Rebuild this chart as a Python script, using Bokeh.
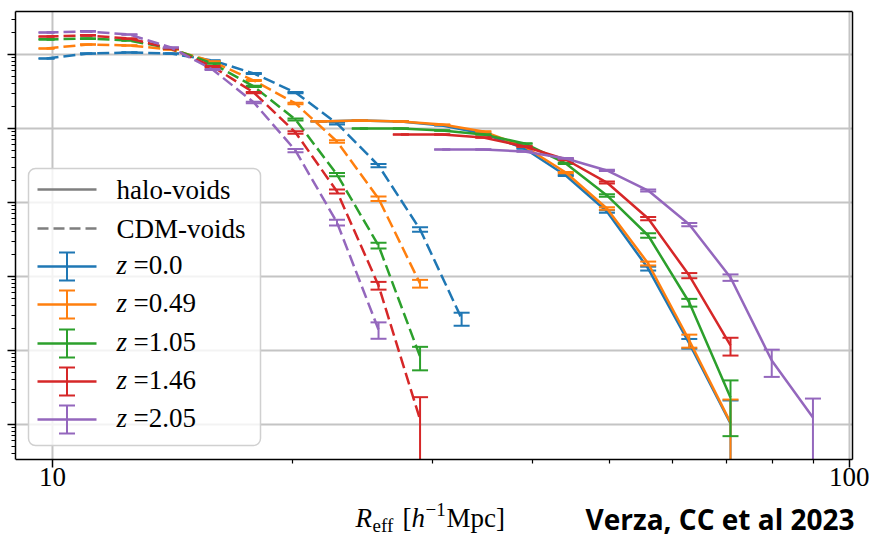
import numpy as np
from bokeh.plotting import figure
from bokeh.models import (FixedTicker, Range1d, LinearScale, Label, LogAxis,
                          CustomJSTickFormatter)
from bokeh.embed import file_html
from bokeh.resources import INLINE

# ---------------- data ----------------
z_labels = ["0.0", "0.49", "1.05", "1.46", "2.05"]
colors = ["#1f77b4", "#ff7f0e", "#2ca02c", "#d62728", "#9467bd"]

# CDM-voids: radius bins [h^-1 Mpc]
cdm_R = [9.83, 11.08, 12.49, 14.08, 15.88, 17.89, 20.18, 22.75, 25.65, 28.92, 32.61]
cdm_z000 = [8.83e-5, 1.03e-4, 1.064e-4, 1.03e-4, 8.30e-5, 5.54e-5, 3.06e-5, 1.17e-5, 3.16e-6, 4.32e-7, 2.70e-8]
cdm_z049 = [1.205e-4, 1.365e-4, 1.325e-4, 1.17e-4, 8.04e-5, 4.45e-5, 2.18e-5, 6.67e-6, 1.13e-6, 8.04e-8]
cdm_z105 = [1.60e-4, 1.64e-4, 1.545e-4, 1.205e-4, 7.55e-5, 3.70e-5, 1.32e-5, 2.39e-6, 2.62e-7, 8.30e-9]
cdm_z146 = [1.75e-4, 1.81e-4, 1.64e-4, 1.205e-4, 6.89e-5, 3.06e-5, 8.83e-6, 1.41e-6, 7.55e-8, 1.17e-9]
cdm_z205 = [1.98e-4, 2.05e-4, 1.86e-4, 1.245e-4, 6.27e-5, 2.25e-5, 5.04e-6, 5.37e-7, 1.92e-8]
cdm_relerr_z000 = [0.01, 0.01, 0.01, 0.01, 0.01, 0.015, 0.02, 0.03, 0.05, 0.07, 0.2]
cdm_relerr_z049 = [0.01, 0.01, 0.01, 0.01, 0.01, 0.015, 0.025, 0.04, 0.07, 0.12]
cdm_relerr_z105 = [0.01, 0.01, 0.01, 0.01, 0.01, 0.02, 0.03, 0.05, 0.09, 0.35]
cdm_relerr_z146 = [0.01, 0.01, 0.01, 0.01, 0.015, 0.02, 0.04, 0.06, 0.12, 1.0]
cdm_relerr_z205 = [0.01, 0.01, 0.01, 0.01, 0.015, 0.025, 0.05, 0.09, 0.25]

# halo-voids: radius bins [h^-1 Mpc]
halo_R = [21.57, 24.30, 27.36, 30.83, 34.72, 39.11, 44.06, 49.62, 55.90, 62.95, 70.91, 79.88, 89.98]
halo_first_bin = [0, 0, 1, 2, 3]
halo_z000 = [1.245e-5, 1.28e-5, 1.245e-5, 1.10e-5, 8.55e-6, 5.37e-6, 2.32e-6, 7.55e-7, 1.28e-7, 1.245e-8, 1.03e-9]
halo_z049 = [1.245e-5, 1.28e-5, 1.245e-5, 1.13e-5, 9.10e-6, 5.71e-6, 2.54e-6, 8.30e-7, 1.50e-7, 1.365e-8, 1.06e-9]
halo_z105 = [1.0e-5, 1.0e-5, 9.40e-6, 8.30e-6, 6.27e-6, 3.37e-6, 1.245e-6, 3.58e-7, 4.45e-8, 2.32e-9]
halo_z146 = [8.30e-6, 8.30e-6, 7.55e-6, 5.71e-6, 3.81e-6, 1.86e-6, 6.08e-7, 1.03e-7, 1.17e-8]
halo_z205 = [5.20e-6, 5.20e-6, 4.89e-6, 3.94e-6, 2.71e-6, 1.45e-6, 5.04e-7, 9.70e-8, 7.33e-9, 1.245e-9]
halo_relerr_z000 = [0.005, 0.005, 0.005, 0.005, 0.005, 0.01, 0.02, 0.04, 0.06, 0.15, 1.05]
halo_relerr_z049 = [0.005, 0.005, 0.005, 0.005, 0.01, 0.01, 0.02, 0.04, 0.06, 0.2, 1.05]
halo_relerr_z105 = [0.005, 0.005, 0.005, 0.01, 0.01, 0.02, 0.04, 0.07, 0.12, 0.7]
halo_relerr_z146 = [0.005, 0.005, 0.01, 0.01, 0.02, 0.03, 0.05, 0.08, 0.27]
halo_relerr_z205 = [0.005, 0.005, 0.01, 0.01, 0.02, 0.03, 0.05, 0.1, 0.4, 0.8]

x_major = [10, 100]
x_minor = [20, 30, 40, 50, 60, 70, 80, 90]
y_major = [1e-9, 1e-8, 1e-7, 1e-6, 1e-5, 1e-4]

cdm_vals = [cdm_z000, cdm_z049, cdm_z105, cdm_z146, cdm_z205]
cdm_errs = [cdm_relerr_z000, cdm_relerr_z049, cdm_relerr_z105, cdm_relerr_z146, cdm_relerr_z205]
halo_vals = [halo_z000, halo_z049, halo_z105, halo_z146, halo_z205]
halo_errs = [halo_relerr_z000, halo_relerr_z049, halo_relerr_z105, halo_relerr_z146, halo_relerr_z205]

# ---------------- axes extents ----------------
X_LO, X_HI = 8.987, 100.87                  # visible axes box
X_CANVAS_HI = 105.95                         # room to the right for the "100" label
Y_LO, Y_HI = 10 ** -9.473, 10 ** -3.419
Y_CANVAS_LO = 10 ** -10.527                  # room below the box for the x labels
GRID = "#c4c4c4"

SERIF = "Liberation Serif"
p = figure(width=869, height=537, x_axis_type="log", y_axis_type="log",
           x_range=Range1d(X_LO, X_CANVAS_HI), y_range=Range1d(Y_CANVAS_LO, Y_HI),
           output_backend="svg", toolbar_location=None,
           min_border_left=15, min_border_right=0, min_border_top=11, min_border_bottom=0)
p.background_fill_color = "white"
p.border_fill_color = "white"
p.outline_line_color = None

# bottom axis on the lower edge of the axes box
p.xaxis.fixed_location = Y_LO
p.xaxis.bounds = (X_LO, X_HI)
p.xaxis.ticker = FixedTicker(ticks=x_major, minor_ticks=x_minor)
p.xaxis.formatter = CustomJSTickFormatter(code="return Math.round(tick).toString();")
y_minor = [m * 10.0 ** k for k in range(-10, -3) for m in range(2, 10)
           if Y_LO <= m * 10.0 ** k <= Y_HI]
p.yaxis.ticker = FixedTicker(ticks=y_major, minor_ticks=y_minor)
p.yaxis.formatter = CustomJSTickFormatter(code="return '';")
p.yaxis.bounds = (Y_LO, Y_HI)
for ax in (p.xaxis, p.yaxis):
    ax.axis_line_color = "black"
    ax.axis_line_width = 1.5
    ax.major_tick_line_color = "black"
    ax.minor_tick_line_color = "black"
    ax.major_tick_line_width = 1.5
    ax.minor_tick_line_width = 1.2
    ax.major_tick_out = 8
    ax.major_tick_in = 0
    ax.minor_tick_out = 4
    ax.minor_tick_in = 0
p.xaxis.major_label_text_font = SERIF
p.xaxis.major_label_text_font_size = "27px"
p.xaxis.major_label_text_color = "black"
p.xaxis.major_label_standoff = 0
p.yaxis.major_label_standoff = 0
p.yaxis.major_label_text_font_size = "1px"

# top and right spines of the axes box
top_spine = LogAxis(ticker=FixedTicker(ticks=[]), axis_line_color="black", axis_line_width=1.5,
                    major_tick_out=0, minor_tick_out=0, major_label_standoff=0,
                    major_label_text_font_size="1px", bounds=(X_LO, X_HI))
right_spine = LogAxis(ticker=FixedTicker(ticks=[]), axis_line_color="black", axis_line_width=1.5,
                      major_tick_out=0, minor_tick_out=0, major_label_standoff=0,
                      major_label_text_font_size="1px", bounds=(Y_LO, Y_HI),
                      fixed_location=X_HI)
p.add_layout(top_spine, "above")
p.add_layout(right_spine, "right")

# grid lines inside the axes box only
p.grid.visible = False
for t in x_major:
    p.segment(x0=[t], y0=[Y_LO], x1=[t], y1=[Y_HI], line_color=GRID, line_width=2)
for t in y_major:
    p.segment(x0=[X_LO], y0=[t], x1=[X_HI], y1=[t], line_color=GRID, line_width=2)


def draw_series(R, vals, rel, color, dash):
    R = np.asarray(R, dtype=float)
    v = np.asarray(vals, dtype=float)
    s = v * np.asarray(rel, dtype=float)
    up = v + s
    lo_raw = v - s
    lo = np.where(lo_raw > Y_LO, lo_raw, Y_LO)
    p.line(R, v, line_color=color, line_width=2.5, line_dash=dash)
    p.segment(x0=R, y0=lo, x1=R, y1=up, line_color=color, line_width=2)
    keep = lo_raw > Y_LO
    p.scatter(np.r_[R, R[keep]], np.r_[up, lo_raw[keep]], marker="dash", size=16,
              line_color=color, line_width=2)


for i, c in enumerate(colors):
    j0 = halo_first_bin[i]
    hv = halo_vals[i]
    draw_series(halo_R[j0:j0 + len(hv)], hv, halo_errs[i], c, "solid")
    cv = cdm_vals[i]
    draw_series(cdm_R[:len(cv)], cv, cdm_errs[i], c, "12 5")

# ---------------- legend and texts (canvas-pixel helper ranges) ----------------
p.extra_x_ranges = {"px": Range1d(15, 869)}
p.extra_y_ranges = {"py": Range1d(537, 11)}
p.extra_x_scales = {"px": LinearScale()}
p.extra_y_scales = {"py": LinearScale()}
kw = dict(x_range_name="px", y_range_name="py")

p.quad(left=[28], right=[260], top=[168], bottom=[445], fill_color="white", fill_alpha=0.8,
       line_color="#d0d0d0", line_width=1.5, border_radius=7, **kw)

rows = [189, 228, 266, 304, 343, 381, 419]
gray = "#7f7f7f"
p.line([37, 96], [rows[0], rows[0]], line_color=gray, line_width=2.5, **kw)
p.line([37, 96], [rows[1], rows[1]], line_color=gray, line_width=2.5, line_dash="11 5", **kw)
for i, c in enumerate(colors):
    r = rows[i + 2]
    p.line([37, 96], [r, r], line_color=c, line_width=2.5, **kw)
    p.segment(x0=[66.5], y0=[r - 14], x1=[66.5], y1=[r + 14], line_color=c, line_width=2, **kw)
    p.scatter([66.5, 66.5], [r - 14, r + 14], marker="dash", size=16, line_color=c, line_width=2, **kw)


def lab(x, baseline, text, size=27, style="normal", font=SERIF, align="left"):
    # the rendered alphabetic baseline lands ~0.4 em lower than requested; compensate
    p.add_layout(Label(x=x, y=baseline - 0.4 * size, text=text, text_font=font,
                       text_font_size=f"{size}px", text_font_style=style, text_align=align,
                       text_baseline="alphabetic", text_color="black", **kw))


lab(116, rows[0] + 11, "halo-voids")
lab(116, rows[1] + 11, "CDM-voids")
for i, zl in enumerate(z_labels):
    r = rows[i + 2]
    lab(116, r + 9, "z", style="italic")
    lab(133, r + 9, "=" + zl)

# x-axis label  R_eff [h^-1 Mpc]
lab(355, 528, "R", style="italic")
lab(372, 533, "eff", size=19)
lab(402, 528, "[")
lab(411, 528, "h", style="italic")
lab(425, 517, "\u22121", size=19)
lab(446, 528, "Mpc]")

# credit
lab(854, 530, "Verza, CC et al 2023", size=28, style="bold", font="Open Sans", align="right")

open("out.html", "w").write(file_html(p, INLINE))
